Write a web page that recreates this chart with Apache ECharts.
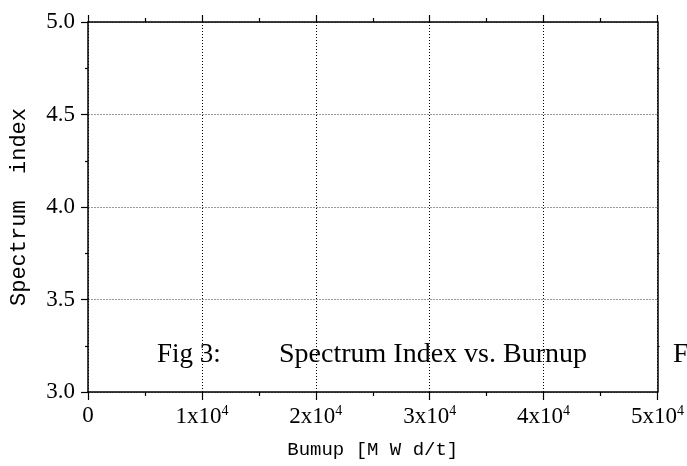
<!DOCTYPE html>
<html>
<head>
<meta charset="utf-8">
<script src="https://cdn.jsdelivr.net/npm/echarts@6/dist/echarts.min.js"></script>
<style>
  html, body { margin: 0; padding: 0; background: #fff; }
  #chart { width: 687px; height: 466px; }
</style>
</head>
<body>
<div id="chart"></div>
<script>
// axis ranges and ticks (no curves are drawn in it)
const xRange = [0, 50000];
const xStep = 10000;
const yRange = [3.0, 5.0];
const yStep = 0.5;
const seriesData = []; // the figure shows an empty frame

const xTitle = 'Bumup [M W d/t]';
const yTitle = 'Spectrum  index';
const captionParts = ['Fig 3:', 'Spectrum Index vs. Burnup', 'F'];

const serif = '"Liberation Serif", "DejaVu Serif", serif';
const mono = '"Liberation Mono", "DejaVu Sans Mono", monospace';

const chart = echarts.init(document.getElementById('chart'));

const axisLineStyle = { color: '#000', width: 1.5 };

const option = {
    animation: false,
    backgroundColor: '#fff',
    grid: { left: 86, right: 26, top: 22, bottom: 74, containLabel: false },
    xAxis: [
        {
            type: 'value',
            min: xRange[0], max: xRange[1], interval: xStep,
            position: 'bottom',
            name: xTitle,
            nameLocation: 'middle',
            nameGap: 48,
            nameTextStyle: { fontFamily: mono, fontSize: 19, color: '#000' },
            axisLine: { show: true, onZero: false, lineStyle: axisLineStyle },
            axisTick: { show: true, inside: false, length: 8, lineStyle: { color: '#000', width: 1.2 } },
            minorTick: { show: true, splitNumber: 2, length: 4, lineStyle: { color: '#000', width: 1.2 } },
            splitLine: { show: true, lineStyle: { color: '#000', width: 1, type: [1, 2] } },
            axisLabel: {
                margin: 12,
                fontFamily: serif, fontSize: 23, color: '#000',
                formatter: function (v) {
                    if (v === 0) return '0';
                    return (v / 10000) + 'x10{sup|4}';
                },
                rich: {
                    sup: { fontFamily: serif, fontSize: 14, color: '#000', verticalAlign: 'bottom', padding: [0, 0, 11, 0] }
                }
            }
        },
        {
            type: 'value',
            min: xRange[0], max: xRange[1], interval: xStep,
            position: 'top',
            axisLine: { show: true, onZero: false, lineStyle: axisLineStyle },
            axisTick: { show: true, inside: false, length: 7, lineStyle: { color: '#000', width: 1.2 } },
            minorTick: { show: true, splitNumber: 2, length: 4, lineStyle: { color: '#000', width: 1.2 } },
            splitLine: { show: false },
            axisLabel: { show: false }
        }
    ],
    yAxis: [
        {
            type: 'value',
            min: yRange[0], max: yRange[1], interval: yStep,
            position: 'left',
            name: yTitle,
            nameLocation: 'middle',
            nameGap: 58,
            nameRotate: 90,
            nameTextStyle: { fontFamily: mono, fontSize: 22, color: '#000' },
            axisLine: { show: true, onZero: false, lineStyle: axisLineStyle },
            axisTick: { show: true, inside: false, length: 7, lineStyle: { color: '#000', width: 1.2 } },
            minorTick: { show: true, splitNumber: 2, length: 3, lineStyle: { color: '#000', width: 1.2 } },
            splitLine: { show: true, lineStyle: { color: '#9a9a9a', width: 1, type: [2, 1] } },
            axisLabel: {
                margin: 13,
                fontFamily: serif, fontSize: 23, color: '#000',
                formatter: function (v) { return v.toFixed(1); }
            }
        },
        {
            type: 'value',
            min: yRange[0], max: yRange[1], interval: yStep,
            position: 'right',
            axisLine: { show: true, onZero: false, lineStyle: axisLineStyle },
            axisTick: { show: false },
            minorTick: { show: true, splitNumber: 2, length: 2, lineStyle: { color: '#000', width: 1.2 } },
            splitLine: { show: false },
            axisLabel: { show: false }
        }
    ],
    graphic: [
        { type: 'text', left: 157, top: 341, style: { text: captionParts[0], font: '27px ' + serif, fill: '#000' } },
        { type: 'text', left: 279, top: 341, style: { text: captionParts[1], font: '28px ' + serif, fill: '#000' } },
        { type: 'text', left: 673, top: 341, style: { text: captionParts[2], font: '28px ' + serif, fill: '#000' } }
    ],
    series: [
        {
            type: 'line',
            xAxisIndex: 0,
            yAxisIndex: 0,
            data: seriesData,
            showSymbol: false
        }
    ]
};

chart.setOption(option);
</script>
</body>
</html>
